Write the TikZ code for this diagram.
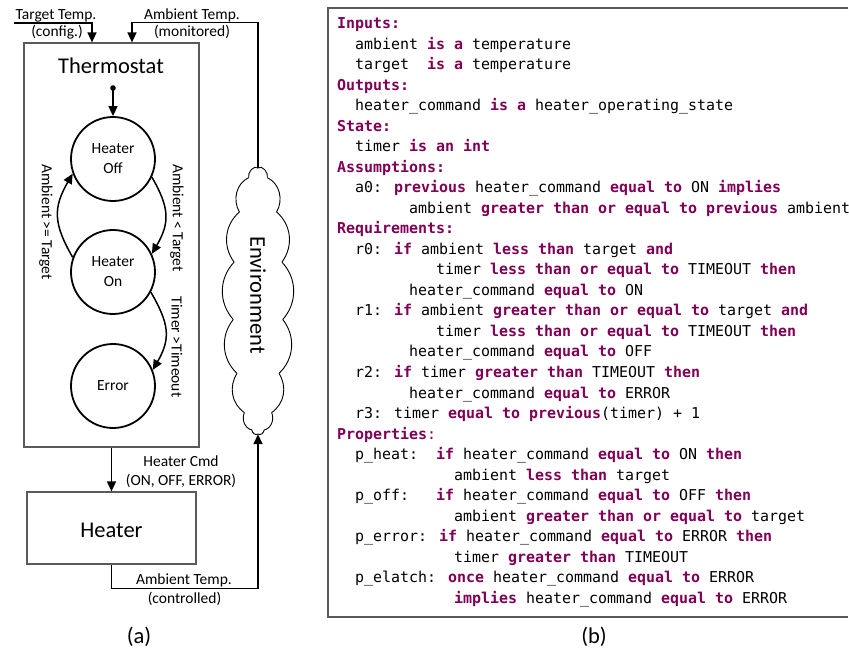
\documentclass[tikz,border=0pt]{standalone}
\usepackage{fontspec}
\setmainfont{Carlito}
\newfontfamily\codefont{DejaVu Sans Mono}
\usetikzlibrary{arrows.meta,calc}
\definecolor{kwcol}{HTML}{7F0055}
\definecolor{framegray}{HTML}{5A5A5A}
\newcommand{\kw}[1]{\textcolor{kwcol}{\bfseries #1}}
% one line of the specification listing: line number, indent in characters, text
\newcommand{\codeline}[3]{\node[code] (l#1) at ({337+9*#2},{29+20.5*(#1-1)}) {#3};}

\begin{document}
\begin{tikzpicture}[x=1pt,y=-1pt,
  arr/.style={line width=1.5pt, -{Triangle[length=10pt,width=9pt]}},
  state/.style={circle, draw, line width=1.8pt, minimum size=84pt, inner sep=0pt,
                align=center, font=\fontsize{15.5}{20}\selectfont},
  block/.style={draw=framegray, line width=1.2pt, inner sep=0pt},
  lbl/.style={font=\fontsize{15.5}{19}\selectfont, inner sep=0pt},
  biglbl/.style={font=\fontsize{22.5}{26}\selectfont, inner sep=0pt},
  code/.style={anchor=base west, inner sep=0pt, font=\codefont\fontsize{14.95}{20}\selectfont},
]
\useasboundingbox (0,0) rectangle (849,652);

% ---------- (a) block diagram ----------
\node[block, minimum width=175pt, minimum height=404pt] (thermo) at (111.5,245) {};
\node[biglbl, anchor=base] (thermotitle) at (111,74) {Thermostat};

\node[block, minimum width=169pt, minimum height=72pt] (heater) at (111.5,528) {};
\node[biglbl, anchor=base] (heatertitle) at (111.5,537) {Heater};

% state machine
\node[state] (off) at (113,159) {Heater\\Off};
\node[state] (on)  at (113,272) {Heater\\On};
\node[state] (err) at (113,386) {Error};
\coordinate (init) at (113,88);
\fill (init) circle (2.8pt);
\draw[arr] (init) -- (off.north);

\draw[arr] (off.-25) to[out=-60, in=60, looseness=1.2] (on.25);
\draw[arr] (on.160) to[out=120, in=-120, looseness=1.2] (off.-160);
\draw[arr] (on.-28) to[out=-60, in=60, looseness=1.2] (err.22);

\node[lbl, rotate=-90] (lblback) at (46,222) {Ambient >= Target};
\node[lbl, rotate=-90] (lblfwd) at (177,218) {Ambient < Target};
\node[lbl, rotate=-90] (lblerr) at (177,347) {Timer >Timeout};

% environment: a tall cloud of puffs around an invisible frame;
% each puff leaves and enters its end points 50 degrees off the ellipse normal
\node[minimum width=54pt, minimum height=266pt, inner sep=0pt] (env) at (258,301) {};
\foreach \ta/\tb in {90/112,112/138,138/163,163/188,188/213,213/237,237/256,256/270,
                     270/284,284/303,303/327,327/352,352/377,377/402,402/428,428/450} {
  \pgfmathsetmacro\oa{atan2(25*sin(\ta),133*cos(\ta))+50}
  \pgfmathsetmacro\ib{atan2(25*sin(\tb),133*cos(\tb))-50}
  \draw[line width=0.9pt] ($(env.center)+(\ta:25pt and 133pt)$)
    to[out=\oa, in=\ib] ($(env.center)+(\tb:25pt and 133pt)$);
}
\node[biglbl, rotate=-90] (envtitle) at (258,295) {Environment};

% inputs
\coordinate (tin) at (14,23);
\draw[arr] (tin) -| ([xshift=-19.5pt]thermo.north);
\node[lbl, anchor=base] (tgt1) at (56,20) {Target Temp.};
\node[lbl, anchor=base] (tgt2) at (57,37) {(config.)};

\draw[arr] (env.north) |- ([xshift=20.5pt,yshift=20pt]thermo.north)
           -- ([xshift=20.5pt]thermo.north);
\node[lbl, anchor=base] (amb1) at (192,20) {Ambient Temp.};
\node[lbl, anchor=base] (amb2) at (192,37) {(monitored)};

% outputs
\draw[arr] (thermo.south) -- (heater.north);
\node[lbl, anchor=base] (cmd1) at (181,466) {Heater Cmd};
\node[lbl, anchor=base] (cmd2) at (181,485) {(ON, OFF, ERROR)};

\draw[arr] (heater.south) -- ++(0,24) -| (env.south);
\node[lbl, anchor=base] (ctl1) at (184,584) {Ambient Temp.};
\node[lbl, anchor=base] (ctl2) at (184.5,603) {(controlled)};

\node[biglbl, anchor=base] (capa) at (139,643) {(a)};

% ---------- (b) specification listing ----------
\draw[framegray, line width=1.2pt] (848,8) -- (328,8) -- (328,617) -- (848,617);

\codeline{1}{0}{\kw{Inputs:}}
\codeline{2}{2}{ambient \kw{is a} temperature}
\codeline{3}{2}{target~~\kw{is a} temperature}
\codeline{4}{0}{\kw{Outputs:}}
\codeline{5}{2}{heater\_command \kw{is a} heater\_operating\_state}
\codeline{6}{0}{\kw{State:}}
\codeline{7}{2}{timer \kw{is an int}}
\codeline{8}{0}{\kw{Assumptions:}}
\codeline{9}{2}{a0: \kw{previous} heater\_command \kw{equal to} ON \kw{implies}}
\codeline{10}{8}{ambient \kw{greater than or equal to previous} ambient}
\codeline{11}{0}{\kw{Requirements:}}
\codeline{12}{2}{r0: \kw{if} ambient \kw{less than} target \kw{and}}
\codeline{13}{11}{timer \kw{less than or equal to} TIMEOUT \kw{then}}
\codeline{14}{8}{heater\_command \kw{equal to} ON}
\codeline{15}{2}{r1: \kw{if} ambient \kw{greater than or equal to} target \kw{and}}
\codeline{16}{11}{timer \kw{less than or equal to} TIMEOUT \kw{then}}
\codeline{17}{8}{heater\_command \kw{equal to} OFF}
\codeline{18}{2}{r2: \kw{if} timer \kw{greater than} TIMEOUT \kw{then}}
\codeline{19}{8}{heater\_command \kw{equal to} ERROR}
\codeline{20}{2}{r3: timer \kw{equal to previous}(timer) + 1}
\codeline{21}{0}{\kw{Properties}\textcolor{kwcol}{:}}
\codeline{22}{2}{p\_heat:~~\kw{if} heater\_command \kw{equal to} ON \kw{then}}
\codeline{23}{13}{ambient \kw{less than} target}
\codeline{24}{2}{p\_off:~~~\kw{if} heater\_command \kw{equal to} OFF \kw{then}}
\codeline{25}{13}{ambient \kw{greater than or equal to} target}
\codeline{26}{2}{p\_error: \kw{if} heater\_command \kw{equal to} ERROR \kw{then}}
\codeline{27}{13}{timer \kw{greater than} TIMEOUT}
\codeline{28}{2}{p\_elatch: \kw{once} heater\_command \kw{equal to} ERROR}
\codeline{29}{13}{\kw{implies} heater\_command \kw{equal to} ERROR}

\node[biglbl, anchor=base] (capb) at (594,643) {(b)};
\end{tikzpicture}
\end{document}
